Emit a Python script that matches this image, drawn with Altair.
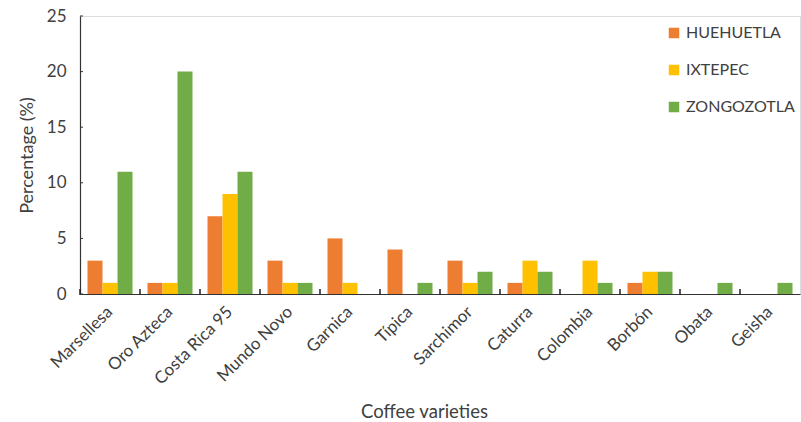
import altair as alt
import pandas as pd

varieties = ["Marsellesa", "Oro Azteca", "Costa Rica 95", "Mundo Novo", "Garnica",
             "Típica", "Sarchimor", "Caturra", "Colombia", "Borbón", "Obata", "Geisha"]
regions = ["HUEHUETLA", "IXTEPEC", "ZONGOZOTLA"]
huehuetla = [3, 1, 7, 3, 5, 4, 3, 1, 0, 1, 0, 0]
ixtepec = [1, 1, 9, 1, 1, 0, 1, 3, 3, 2, 0, 0]
zongozotla = [11, 20, 11, 1, 0, 1, 2, 2, 1, 2, 1, 1]
y_ticks = [0, 5, 10, 15, 20, 25]
colors = ["#ED7D31", "#FFC000", "#70AD47"]

rows = []
for region, vals in zip(regions, [huehuetla, ixtepec, zongozotla]):
    for v, val in zip(varieties, vals):
        rows.append({"variety": v, "region": region, "pct": val})
df = pd.DataFrame(rows)

FONT = "Lato"
TXT = "#404040"
AXIS = "#333333"
W, H = 720, 278

y_scale = alt.Scale(domain=[0, 25])

x_enc = alt.X("variety:N", sort=varieties,
              scale=alt.Scale(paddingInner=0, paddingOuter=0),
              axis=alt.Axis(title="Coffee varieties", labelAngle=-45, labelAlign="right",
                            labelBaseline="middle", labelFontSize=17, labelColor=TXT,
                            labelFont=FONT, labelPadding=15, ticks=False,
                            domainColor=AXIS, domainWidth=1.2,
                            titleFont=FONT, titleFontSize=18.5, titleFontWeight="normal",
                            titleColor=TXT, titleX=344, titleY=123,
                            titleBaseline="alphabetic", titleAlign="center"))

bars = alt.Chart(df).mark_bar().encode(
    x=x_enc,
    xOffset=alt.XOffset("region:N", sort=regions,
                        scale=alt.Scale(paddingInner=0, paddingOuter=0.5)),
    y=alt.Y("pct:Q", scale=y_scale,
            axis=alt.Axis(title="Percentage (%)", values=y_ticks,
                          grid=False, ticks=False, labelFontSize=17, labelColor=TXT,
                          labelFont=FONT, labelPadding=14, domainColor=AXIS,
                          domainWidth=1.2, titleFont=FONT, titleFontSize=18,
                          titleFontWeight="normal", titleColor=TXT, titlePadding=10)),
    color=alt.Color("region:N", sort=regions,
                    scale=alt.Scale(domain=regions, range=colors),
                    legend=alt.Legend(title=None, orient="none", legendX=586, legendY=9,
                                      symbolType="square", symbolSize=110,
                                      symbolStrokeWidth=0, labelFont=FONT,
                                      labelFontSize=16, labelColor=TXT, rowPadding=21,
                                      labelOffset=4)),
)

# short marks at the band boundaries, pointing up from the x axis line
x_ticks = alt.Chart(pd.DataFrame({"variety": varieties})).mark_rule(
    color="#222222", strokeWidth=1.5
).encode(
    x=alt.X("variety:N", sort=varieties, bandPosition=0),
    y=alt.value(H + 1),
    y2=alt.value(H - 5),
)

# short inward marks on the y axis
y_marks = alt.Chart(pd.DataFrame({"v": y_ticks})).mark_rule(
    color=AXIS, strokeWidth=1
).encode(
    y=alt.Y("v:Q", scale=y_scale),
    x=alt.value(0),
    x2=alt.value(3),
)

chart = alt.layer(bars, x_ticks, y_marks).properties(
    width=W, height=H,
    autosize=alt.AutoSizeParams(type="none"),
    padding={"left": 80, "top": 16, "right": 1, "bottom": 128},
).configure_view(stroke=None).configure(background="white")

chart.save("out.html", embed_options={"renderer": "svg", "actions": False})
